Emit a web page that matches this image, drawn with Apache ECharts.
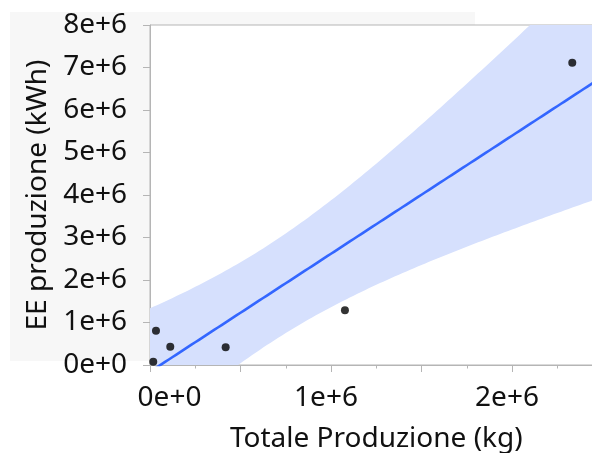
<!DOCTYPE html>
<html>
<head>
<meta charset="utf-8">
<script src="https://cdn.jsdelivr.net/npm/echarts@6/dist/echarts.min.js"></script>
<style>
  html, body { margin: 0; padding: 0; background: #ffffff; }
  #chart { width: 592px; height: 453px; }
</style>
</head>
<body>
<div id="chart"></div>
<script>
// Observations: total production (kg) vs electricity produced (kWh)
const produzioneKg  = [18000, 33000, 112000, 418000, 1077000, 2333000];
const produzioneKWh = [78000, 807000, 430000, 416000, 1287000, 7110000];

// Tick labels
const xTickLabels = ['0e+0', '1e+6', '2e+6'];
const yTickLabels = ['0e+0', '1e+6', '2e+6', '3e+6', '4e+6', '5e+6', '6e+6', '7e+6', '8e+6'];

// Axis ranges
const xRange = [0, 2500000];
const yRange = [0, 8000000];

// Ordinary least squares fit with a 95% confidence band for the mean
function linearFit(xs, ys) {
  const n = xs.length;
  const mx = xs.reduce((a, b) => a + b, 0) / n;
  const my = ys.reduce((a, b) => a + b, 0) / n;
  let sxx = 0, sxy = 0;
  for (let i = 0; i < n; i++) {
    sxx += (xs[i] - mx) * (xs[i] - mx);
    sxy += (xs[i] - mx) * (ys[i] - my);
  }
  const slope = sxy / sxx;
  const icpt = my - slope * mx;
  let sse = 0;
  for (let i = 0; i < n; i++) {
    const r = ys[i] - (icpt + slope * xs[i]);
    sse += r * r;
  }
  const s = Math.sqrt(sse / (n - 2));
  return { n, mx, sxx, slope, icpt, s };
}

const fit = linearFit(produzioneKg, produzioneKWh);
const tCrit = 2.776445; // Student t, 0.975 quantile, df = 4

const bandX = [];
const steps = 120;
for (let i = 0; i <= steps; i++) bandX.push(xRange[0] + (xRange[1] - xRange[0]) * i / steps);

const fitLine = [], bandRows = [];
bandX.forEach(x => {
  const yhat = fit.icpt + fit.slope * x;
  const se = fit.s * Math.sqrt(1 / fit.n + (x - fit.mx) * (x - fit.mx) / fit.sxx);
  fitLine.push([x, yhat]);
  bandRows.push([x, yhat - tCrit * se, yhat + tCrit * se]);
});

const points = produzioneKg.map((x, i) => [x, produzioneKWh[i]]);

const textColor = '#111111';
const axisGray = '#b5b5b5';
const fontFamily = '"Noto Sans", "Open Sans", sans-serif';
const fs = 28;

const chart = echarts.init(document.getElementById('chart'), null, { renderer: 'canvas' });

chart.setOption({
  animation: false,
  backgroundColor: '#ffffff',
  textStyle: { fontFamily: fontFamily },
  graphic: [
    {
      type: 'rect',
      z: -10,
      silent: true,
      shape: { x: 10, y: 12, width: 465, height: 349 },
      style: { fill: '#f7f7f7' }
    }
  ],
  grid: {
    left: 150,
    top: 25,
    width: 452.5,
    height: 340,
    outerBoundsMode: 'none',
    containLabel: false,
    show: true,
    backgroundColor: '#ffffff',
    borderColor: axisGray,
    borderWidth: 1
  },
  xAxis: {
    type: 'value',
    min: xRange[0],
    max: xRange[1],
    interval: 500000,
    name: 'Totale Produzione (kg)',
    nameLocation: 'middle',
    nameGap: 60,
    nameTextStyle: { fontSize: fs, color: textColor, fontFamily: fontFamily },
    axisLine: { show: true, lineStyle: { color: axisGray, width: 1 } },
    axisTick: { show: true, length: 7, lineStyle: { color: axisGray } },
    minorTick: { show: true, splitNumber: 2, length: 3.5, lineStyle: { color: axisGray } },
    splitLine: { show: false },
    axisLabel: {
      margin: 19,
      color: textColor,
      fontSize: fs,
      fontFamily: fontFamily,
      formatter: function (v) {
        if (v % 1000000 !== 0) return '';
        const idx = v / 1000000;
        const label = xTickLabels[idx];
        if (label === undefined) return '';
        return idx === 0 ? '{first|' + label + '}' : '{rest|' + label + '}';
      },
      rich: {
        first: { fontSize: fs, color: textColor, fontFamily: fontFamily, padding: [0, 0, 0, 39] },
        rest: { fontSize: fs, color: textColor, fontFamily: fontFamily, padding: [0, 10, 0, 0] }
      }
    }
  },
  yAxis: {
    type: 'value',
    min: yRange[0],
    max: yRange[1],
    interval: 1000000,
    name: 'EE produzione (kWh)',
    nameLocation: 'middle',
    nameGap: 96,
    nameTextStyle: { fontSize: fs, color: textColor, fontFamily: fontFamily },
    axisLine: { show: true, lineStyle: { color: axisGray, width: 1 } },
    axisTick: { show: true, length: 7, lineStyle: { color: axisGray } },
    splitLine: { show: false },
    axisLabel: {
      margin: 23,
      color: textColor,
      fontSize: fs,
      fontFamily: fontFamily,
      formatter: function (v) {
        const label = yTickLabels[Math.round(v / 1000000)];
        return label === undefined ? '' : label;
      }
    }
  },
  series: [
    {
      // confidence band drawn as one polygon clipped to the plot panel
      name: 'banda',
      type: 'custom',
      silent: true,
      z: 1,
      data: [0],
      renderItem: function (params, api) {
        const upper = bandRows.map(r => api.coord([r[0], r[2]]));
        const lower = bandRows.slice().reverse().map(r => api.coord([r[0], r[1]]));
        const cs = params.coordSys;
        return {
          type: 'polygon',
          shape: { points: upper.concat(lower) },
          style: { fill: '#d6e0fd' },
          clipPath: {
            type: 'rect',
            shape: { x: cs.x, y: cs.y, width: cs.width, height: cs.height }
          }
        };
      }
    },
    {
      name: 'fit',
      type: 'line',
      data: fitLine,
      symbol: 'none',
      silent: true,
      lineStyle: { color: '#3366ff', width: 2.6 },
      z: 2
    },
    {
      name: 'dati',
      type: 'scatter',
      data: points,
      symbol: 'circle',
      symbolSize: 8,
      itemStyle: { color: '#000000' },
      z: 3
    }
  ]
});
</script>
</body>
</html>
